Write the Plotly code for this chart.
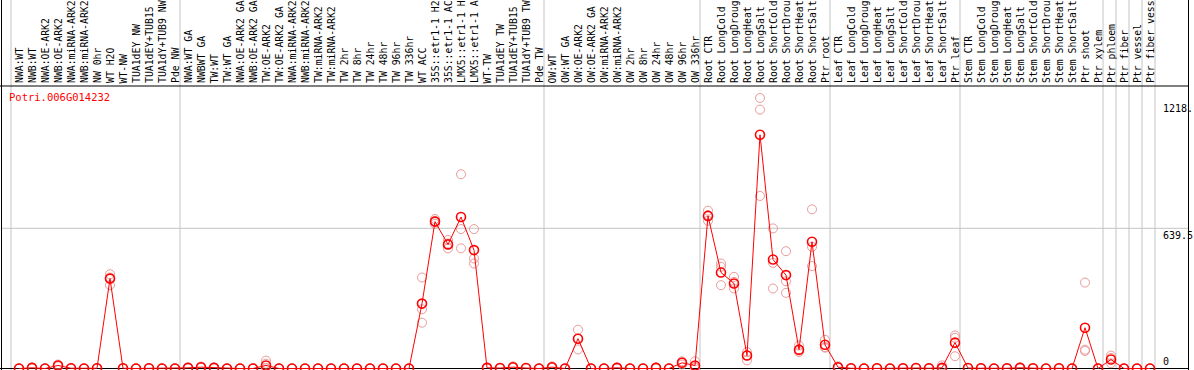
import plotly.graph_objects as go

gene_id = "Potri.006G014232"

categories = [
    "NWA:WT", "NWB:WT", "NWA:OE-ARK2", "NWB:OE-ARK2", "NWA:miRNA-ARK2", "NWB:miRNA-ARK2",
    "NW 0hr", "WT H2O", "WT-NW", "TUA1dEY NW", "TUA1dEY+TUB15 NW", "TUA1dY+TUB9 NW", "Pde NW",
    "NWA:WT GA", "NWBWT GA", "TW:WT", "TW:WT GA", "NWA:OE-ARK2 GA", "NWB:OE-ARK2 GA",
    "TW:OE-ARK2", "TW:OE-ARK2 GA", "NWA:miRNA-ARK2", "NWB:miRNA-ARK2", "TW:miRNA-ARK2",
    "TW:miRNA-ARK2", "TW 2hr", "TW 8hr", "TW 24hr", "TW 48hr", "TW 96hr", "TW 336hr",
    "WT ACC", "35S::etr1-1 H2O", "35S::etr1-1 ACC", "LMX5::etr1-1 H2O", "LMX5::etr1-1 ACC",
    "WT-TW", "TUA1dEY TW", "TUA1dEY+TUB15 TW", "TUA1dY+TUB9 TW", "Pde TW",
    "OW:WT", "OW:WT GA", "OW:OE-ARK2", "OW:OE-ARK2 GA", "OW:miRNA-ARK2", "OW:miRNA-ARK2",
    "OW 2hr", "OW 8hr", "OW 24hr", "OW 48hr", "OW 96hr", "OW 336hr",
    "Root CTR", "Root LongCold", "Root LongDrought", "Root LongHeat", "Root LongSalt",
    "Root ShortCold", "Root ShortDrought", "Root ShortHeat", "Root ShortSalt", "Ptr root",
    "Leaf CTR", "Leaf LongCold", "Leaf LongDrought", "Leaf LongHeat", "Leaf LongSalt",
    "Leaf ShortCold", "Leaf ShortDrought", "Leaf ShortHeat", "Leaf ShortSalt", "Ptr leaf",
    "Stem CTR", "Stem LongCold", "Stem LongDrought", "Stem LongHeat", "Stem LongSalt",
    "Stem ShortCold", "Stem ShortDrought", "Stem ShortHeat", "Stem ShortSalt", "Ptr shoot",
    "Ptr xylem", "Ptr phloem", "Ptr fiber", "Ptr vessel", "Ptr fiber vessel",
]

means = [
    0, 3, 0, 14, 1, 0, 1, 410, 1, 0,
    1, 0, 0, 3, 6, 3, 0, 0, 0, 14,
    0, 0, 0, 0, 0, 0, 0, 0, 0, 0,
    0, 296, 670, 566, 691, 540, 3, 2, 6, 2,
    0, 6, 0, 136, 0, 0, 3, 0, 0, 3,
    0, 26, 14, 696, 438, 388, 59, 1066, 497, 426,
    86, 578, 108, 6, 1, 0, 1, 0, 1, 2,
    1, 3, 118, 2, 1, 0, 1, 3, 1, 0,
    1, 0, 186, 0, 41, 0, 0, 0,
]

rep_a = [
    1, 5, 1, 18, 2, 1, 2, 430, 2, 1,
    2, 1, 1, 5, 9, 5, 1, 1, 1, 36,
    1, 1, 1, 1, 1, 1, 1, 1, 1, 1,
    1, 415, 682, 586, 886, 636, 5, 3, 10, 3,
    1, 10, 1, 177, 1, 1, 5, 1, 1, 5,
    1, 33, 33, 720, 479, 418, 75, 1234, 639, 535,
    105, 726, 131, 10, 2, 1, 2, 1, 2, 3,
    2, 14, 151, 3, 2, 1, 2, 5, 2, 1,
    2, 1, 392, 1, 59, 1, 1, 1,
]

rep_b = [
    0, 2, 0, 12, 1, 0, 1, 415, 1, 0,
    1, 0, 0, 3, 5, 3, 0, 0, 0, 22,
    0, 0, 0, 0, 0, 0, 0, 0, 0, 0,
    0, 270, 674, 548, 636, 502, 2, 2, 5, 2,
    0, 4, 0, 136, 0, 0, 3, 0, 0, 3,
    0, 28, 8, 674, 464, 365, 37, 1181, 482, 398,
    82, 555, 98, 5, 1, 0, 1, 0, 1, 2,
    1, 0, 140, 2, 1, 0, 1, 3, 1, 0,
    1, 0, 86, 0, 48, 0, 0, 0,
]

rep_c = [
    0, 2, 0, 10, 0, 0, 0, 380, 0, 0,
    0, 0, 0, 2, 4, 2, 0, 0, 0, 3,
    0, 0, 0, 0, 0, 0, 0, 0, 0, 0,
    0, 209, 660, 570, 548, 479, 1, 1, 3, 1,
    0, 3, 0, 87, 0, 0, 1, 0, 0, 1,
    0, 18, 3, 700, 380, 395, 60, 787, 365, 345,
    75, 467, 95, 3, 0, 0, 0, 0, 0, 1,
    0, 0, 56, 1, 0, 0, 0, 2, 0, 0,
    0, 0, 80, 0, 24, 0, 0, 0,
]

# group separators (after these category indices)
separators_after = [-1, 12, 40, 52, 62, 72, 83, 84, 85, 86, 87]

y_tick_values = [1218, 639.5, 0]
y_tick_labels = ["1218.", "639.5", "0"]

LABEL_CHARS = 14     # the label band shows at most 14 characters

# ---------------------------------------------------------------------------
W, H = 1194, 370
STEP = 13.0          # px per category
X0_PX = 19.0         # px of first category
ZERO_PX = 368.5      # px of value 0
PX_PER_UNIT = (368.5 - 228.3) / 639.5
TOP_PX = 86          # bottom of label band
RIGHT_PX = 1188

x_idx = list(range(len(categories)))
x_lo = -X0_PX / STEP
x_hi = x_lo + W / STEP
y_hi = ZERO_PX / PX_PER_UNIT
y_lo = -(H - ZERO_PX) / PX_PER_UNIT

MONO = "DejaVu Sans Mono"
RED = "#ff0000"
PINK = "#e99a9a"
GRAY = "#c4c4c4"

fig = go.Figure()

# replicate circles
for reps in (rep_a, rep_b, rep_c):
    fig.add_trace(go.Scatter(
        x=x_idx, y=reps, mode="markers",
        marker=dict(symbol="circle-open", size=9, color=PINK, line=dict(width=1, color=PINK)),
        hoverinfo="skip", showlegend=False, cliponaxis=False,
    ))

# mean line and markers
fig.add_trace(go.Scatter(
    x=x_idx, y=means, mode="lines+markers",
    line=dict(color=RED, width=1),
    marker=dict(symbol="circle-open", size=9, color=RED, line=dict(width=1.6, color=RED)),
    text=categories, showlegend=False, cliponaxis=False,
))

shapes = []
# separators
for k in separators_after:
    xs = k + 0.5 - 1.5 / STEP
    shapes.append(dict(type="line", xref="x", yref="paper", x0=xs, x1=xs, y0=0, y1=1,
                       line=dict(color=GRAY, width=1), layer="below"))
# grid line at 639.5
shapes.append(dict(type="line", xref="paper", yref="y", x0=1 / W, x1=RIGHT_PX / W,
                   y0=639.5, y1=639.5, line=dict(color=GRAY, width=1), layer="below"))
# zero axis line
shapes.append(dict(type="line", xref="paper", yref="y", x0=0, x1=RIGHT_PX / W,
                   y0=0, y1=0, line=dict(color="black", width=1.2), layer="below"))
# top band line
shapes.append(dict(type="line", xref="paper", yref="paper", x0=0, x1=RIGHT_PX / W,
                   y0=1 - TOP_PX / H, y1=1 - TOP_PX / H, line=dict(color="black", width=1.2)))
# left / right borders
shapes.append(dict(type="line", xref="paper", yref="paper", x0=1.5 / W, x1=1.5 / W,
                   y0=0, y1=1, line=dict(color="black", width=1)))
shapes.append(dict(type="line", xref="paper", yref="paper", x0=(RIGHT_PX + 0.5) / W,
                   x1=(RIGHT_PX + 0.5) / W, y0=0, y1=1, line=dict(color="black", width=1)))

annotations = []
for i, name in enumerate(categories):
    annotations.append(dict(
        x=i, xref="x", y=1 - (TOP_PX - 1.5) / H, yref="paper",
        text=name[:LABEL_CHARS].rstrip(), textangle=-90, showarrow=False,
        xanchor="center", yanchor="bottom", borderpad=0,
        font=dict(family=MONO, size=9.8, color="black"),
    ))

annotations.append(dict(
    x=8 / W, xref="paper", y=1 - 90 / H, yref="paper", text=gene_id,
    showarrow=False, xanchor="left", yanchor="top", borderpad=0,
    font=dict(family=MONO, size=10.5, color=RED),
))

for v, lab in zip(y_tick_values, y_tick_labels):
    annotations.append(dict(
        x=1162 / W, xref="paper", y=v, yref="y", text=lab, showarrow=False,
        xanchor="left", yanchor="bottom" if v == 0 else "top",
        yshift=1 if v == 0 else -1, borderpad=0,
        font=dict(family=MONO, size=10, color="black"),
    ))

fig.update_layout(
    width=W, height=H,
    margin=dict(l=0, r=0, t=0, b=0, pad=0),
    paper_bgcolor="white", plot_bgcolor="white",
    xaxis=dict(range=[x_lo, x_hi], visible=False, fixedrange=True),
    yaxis=dict(range=[y_lo, y_hi], visible=False, fixedrange=True),
    shapes=shapes, annotations=annotations, showlegend=False,
)

fig.write_html(
    "out.html",
    config={"displayModeBar": False},
    post_script="document.body.style.margin='0';document.body.style.overflow='hidden';",
)
